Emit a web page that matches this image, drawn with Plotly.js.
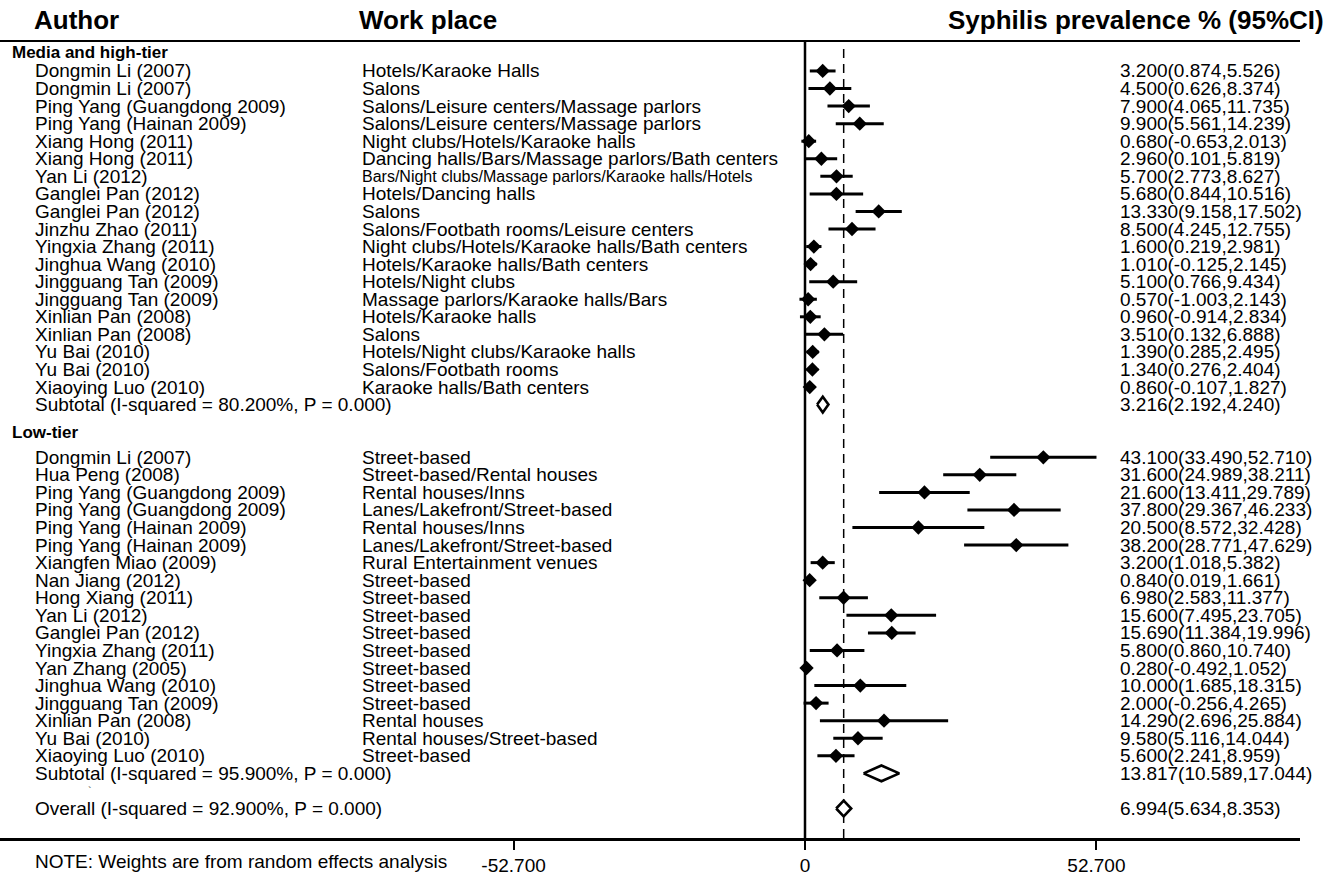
<!DOCTYPE html>
<html><head><meta charset="utf-8">
<script src="https://cdn.plot.ly/plotly-3.0.1.min.js"></script>
<style>html,body{margin:0;padding:0;background:#fff}#chart{width:1333px;height:877px}</style>
</head><body><div id="chart"></div>
<script>
// ---- Data ----
const groupNames = ["Media and high-tier", "Low-tier"];

const highAuthors = ["Dongmin Li (2007)","Dongmin Li (2007)","Ping Yang (Guangdong 2009)","Ping Yang (Hainan 2009)","Xiang Hong (2011)","Xiang Hong (2011)","Yan Li (2012)","Ganglei Pan (2012)","Ganglei Pan (2012)","Jinzhu Zhao (2011)","Yingxia Zhang (2011)","Jinghua Wang (2010)","Jingguang Tan (2009)","Jingguang Tan (2009)","Xinlian Pan (2008)","Xinlian Pan (2008)","Yu Bai (2010)","Yu Bai (2010)","Xiaoying Luo (2010)"];
const highPlaces = ["Hotels/Karaoke Halls","Salons","Salons/Leisure centers/Massage parlors","Salons/Leisure centers/Massage parlors","Night clubs/Hotels/Karaoke halls","Dancing halls/Bars/Massage parlors/Bath centers","Bars/Night clubs/Massage parlors/Karaoke halls/Hotels","Hotels/Dancing halls","Salons","Salons/Footbath rooms/Leisure centers","Night clubs/Hotels/Karaoke halls/Bath centers","Hotels/Karaoke halls/Bath centers","Hotels/Night clubs","Massage parlors/Karaoke halls/Bars","Hotels/Karaoke halls","Salons","Hotels/Night clubs/Karaoke halls","Salons/Footbath rooms","Karaoke halls/Bath centers"];
const highES = [3.200,4.500,7.900,9.900,0.680,2.960,5.700,5.680,13.330,8.500,1.600,1.010,5.100,0.570,0.960,3.510,1.390,1.340,0.860];
const highLo = [0.874,0.626,4.065,5.561,-0.653,0.101,2.773,0.844,9.158,4.245,0.219,-0.125,0.766,-1.003,-0.914,0.132,0.285,0.276,-0.107];
const highHi = [5.526,8.374,11.735,14.239,2.013,5.819,8.627,10.516,17.502,12.755,2.981,2.145,9.434,2.143,2.834,6.888,2.495,2.404,1.827];

const lowAuthors = ["Dongmin Li (2007)","Hua Peng (2008)","Ping Yang (Guangdong 2009)","Ping Yang (Guangdong 2009)","Ping Yang (Hainan 2009)","Ping Yang (Hainan 2009)","Xiangfen Miao (2009)","Nan Jiang (2012)","Hong Xiang (2011)","Yan Li (2012)","Ganglei Pan (2012)","Yingxia Zhang (2011)","Yan Zhang (2005)","Jinghua Wang (2010)","Jingguang Tan (2009)","Xinlian Pan (2008)","Yu Bai (2010)","Xiaoying Luo (2010)"];
const lowPlaces = ["Street-based","Street-based/Rental houses","Rental houses/Inns","Lanes/Lakefront/Street-based","Rental houses/Inns","Lanes/Lakefront/Street-based","Rural Entertainment venues","Street-based","Street-based","Street-based","Street-based","Street-based","Street-based","Street-based","Street-based","Rental houses","Rental houses/Street-based","Street-based"];
const lowES = [43.100,31.600,21.600,37.800,20.500,38.200,3.200,0.840,6.980,15.600,15.690,5.800,0.280,10.000,2.000,14.290,9.580,5.600];
const lowLo = [33.490,24.989,13.411,29.367,8.572,28.771,1.018,0.019,2.583,7.495,11.384,0.860,-0.492,1.685,-0.256,2.696,5.116,2.241];
const lowHi = [52.710,38.211,29.789,46.233,32.428,47.629,5.382,1.661,11.377,23.705,19.996,10.740,1.052,18.315,4.265,25.884,14.044,8.959];

const subtotalLabels = ["Subtotal (I-squared = 80.200%, P = 0.000)", "Subtotal (I-squared = 95.900%, P = 0.000)"];
const subtotalES = [3.216, 13.817];
const subtotalLo = [2.192, 10.589];
const subtotalHi = [4.240, 17.044];

const overallLabel = "Overall (I-squared = 92.900%, P = 0.000)";
const overallES = 6.994, overallLo = 5.634, overallHi = 8.353;

const headerAuthor = "Author", headerPlace = "Work place", headerES = "Syphilis prevalence % (95%CI)";
const tickVals = [-52.7, 0, 52.7];
const tickText = ["-52.700", "0", "52.700"];
const note = "NOTE: Weights are from random effects analysis";

// ---- Layout constants (pixels) ----
const W = 1333, H = 877;
const mL = 0, mR = 33, mT = 42, mB = 39;
const plotW = W - mL - mR, plotH = H - mT - mB;
const zeroPx = 805, pxPerUnit = 5.53;
const xRange = [(0 - zeroPx) / pxPerUnit, (plotW - zeroPx) / pxPerUnit];
const row0Px = 53.4, rowPx = 17.56;
const yRange = [(plotH + mT - row0Px) / rowPx, (mT - row0Px) / rowPx];
const px = v => v / plotW;
const FONT = "Liberation Sans, Arial, Helvetica, sans-serif";
const fmt = (e, l, h) => e.toFixed(3) + "(" + l.toFixed(3) + "," + h.toFixed(3) + ")";

const groups = [
  {name: groupNames[0], authors: highAuthors, places: highPlaces, es: highES, lo: highLo, hi: highHi},
  {name: groupNames[1], authors: lowAuthors, places: lowPlaces, es: lowES, lo: lowLo, hi: lowHi}
];

const ann = [];
const ciX = [], ciY = [], ptX = [], ptY = [];
const pooled = [];
let r = 0;
groups.forEach((g, gi) => {
  ann.push({xref: 'paper', yref: 'y', x: px(10), y: r, xanchor: 'left', yanchor: 'middle', yshift: gi === 0 ? 1 : 7,
            text: '<b>' + g.name + '</b>', showarrow: false, font: {family: FONT, size: 17, color: '#000'}});
  r += 1;
  g.es.forEach((e, i) => {
    ciX.push(g.lo[i], g.hi[i], null); ciY.push(r, r, null);
    ptX.push(e); ptY.push(r);
    ann.push({xref: 'paper', yref: 'y', x: px(33), y: r, xanchor: 'left', yanchor: 'middle', text: g.authors[i], showarrow: false, font: {family: FONT, size: 19, color: '#000'}});
    ann.push({xref: 'paper', yref: 'y', x: px(360), y: r, xanchor: 'left', yanchor: 'middle', text: g.places[i], showarrow: false, font: {family: FONT, size: g.places[i].length > 50 ? 16 : 19, color: '#000'}});
    ann.push({xref: 'paper', yref: 'y', x: px(1118), y: r, xanchor: 'left', yanchor: 'middle', text: fmt(e, g.lo[i], g.hi[i]), showarrow: false, font: {family: FONT, size: 19, color: '#000'}});
    r += 1;
  });
  pooled.push({es: subtotalES[gi], lo: subtotalLo[gi], hi: subtotalHi[gi], row: r});
  ann.push({xref: 'paper', yref: 'y', x: px(33), y: r, xanchor: 'left', yanchor: 'middle', text: subtotalLabels[gi], showarrow: false, font: {family: FONT, size: 19, color: '#000'}});
  ann.push({xref: 'paper', yref: 'y', x: px(1118), y: r, xanchor: 'left', yanchor: 'middle', text: fmt(subtotalES[gi], subtotalLo[gi], subtotalHi[gi]), showarrow: false, font: {family: FONT, size: 19, color: '#000'}});
  r += 2;
});
// small stray mark in the blank row
ann.push({xref: 'paper', yref: 'y', x: px(86), y: r - 1, xanchor: 'left', yanchor: 'middle', text: '`', showarrow: false, font: {family: FONT, size: 11, color: '#444'}});
pooled.push({es: overallES, lo: overallLo, hi: overallHi, row: r});
ann.push({xref: 'paper', yref: 'y', x: px(33), y: r, xanchor: 'left', yanchor: 'middle', text: overallLabel, showarrow: false, font: {family: FONT, size: 19, color: '#000'}});
ann.push({xref: 'paper', yref: 'y', x: px(1118), y: r, xanchor: 'left', yanchor: 'middle', text: fmt(overallES, overallLo, overallHi), showarrow: false, font: {family: FONT, size: 19, color: '#000'}});

// headers
const hy = 1 + (mT - 20) / plotH;
ann.push({xref: 'paper', yref: 'paper', x: px(32), y: hy, xanchor: 'left', yanchor: 'middle', text: '<b>' + headerAuthor + '</b>', showarrow: false, font: {family: FONT, size: 26, color: '#000'}});
ann.push({xref: 'paper', yref: 'paper', x: px(357), y: hy, xanchor: 'left', yanchor: 'middle', text: '<b>' + headerPlace + '</b>', showarrow: false, font: {family: FONT, size: 26, color: '#000'}});
ann.push({xref: 'paper', yref: 'paper', x: px(1326), y: hy, xanchor: 'right', yanchor: 'middle', text: '<b>' + headerES + '</b>', showarrow: false, font: {family: FONT, size: 26, color: '#000'}});
ann.push({xref: 'paper', yref: 'paper', x: px(33), y: -(862 - (mT + plotH)) / plotH, xanchor: 'left', yanchor: 'middle', text: note, showarrow: false, font: {family: FONT, size: 19, color: '#000'}});

const traces = [];
traces.push({type: 'scatter', mode: 'lines', x: ciX, y: ciY, line: {color: '#000', width: 3}, hoverinfo: 'skip', connectgaps: false});
traces.push({type: 'scatter', mode: 'markers', x: ptX, y: ptY, marker: {symbol: 'diamond', size: 11, color: '#000'}, hoverinfo: 'x'});
const dh = 0.45;
pooled.forEach(p => {
  traces.push({type: 'scatter', mode: 'lines', fill: 'toself', fillcolor: '#fff',
    x: [p.lo, p.es, p.hi, p.es, p.lo], y: [p.row, p.row - dh, p.row, p.row + dh, p.row],
    line: {color: '#000', width: 2.6}, hoverinfo: 'skip'});
});

const shapes = [
  {type: 'line', xref: 'x', yref: 'paper', x0: 0, x1: 0, y0: 0, y1: 1, line: {color: '#000', width: 2.5}},
  {type: 'line', xref: 'x', yref: 'y', x0: overallES, x1: overallES, y0: -0.25, y1: yRange[0], line: {color: '#000', width: 1.5, dash: '9px,6px'}, layer: 'below'}
];

const layout = {
  width: W, height: H,
  margin: {l: mL, r: mR, t: mT, b: mB, pad: 0},
  paper_bgcolor: '#fff', plot_bgcolor: '#fff',
  showlegend: false,
  xaxis: {range: xRange, showgrid: false, zeroline: false, showline: true, mirror: true, linecolor: '#000', linewidth: 2.5,
          ticks: 'outside', ticklen: 9, tickwidth: 2, tickcolor: '#000', tickvals: tickVals, ticktext: tickText,
          tickfont: {family: FONT, size: 19, color: '#000'}, fixedrange: true},
  yaxis: {range: yRange, visible: false, showgrid: false, zeroline: false, fixedrange: true},
  shapes: shapes,
  annotations: ann,
  font: {family: FONT, color: '#000'}
};

Plotly.newPlot('chart', traces, layout, {displayModeBar: false, staticPlot: true});
</script></body></html>
